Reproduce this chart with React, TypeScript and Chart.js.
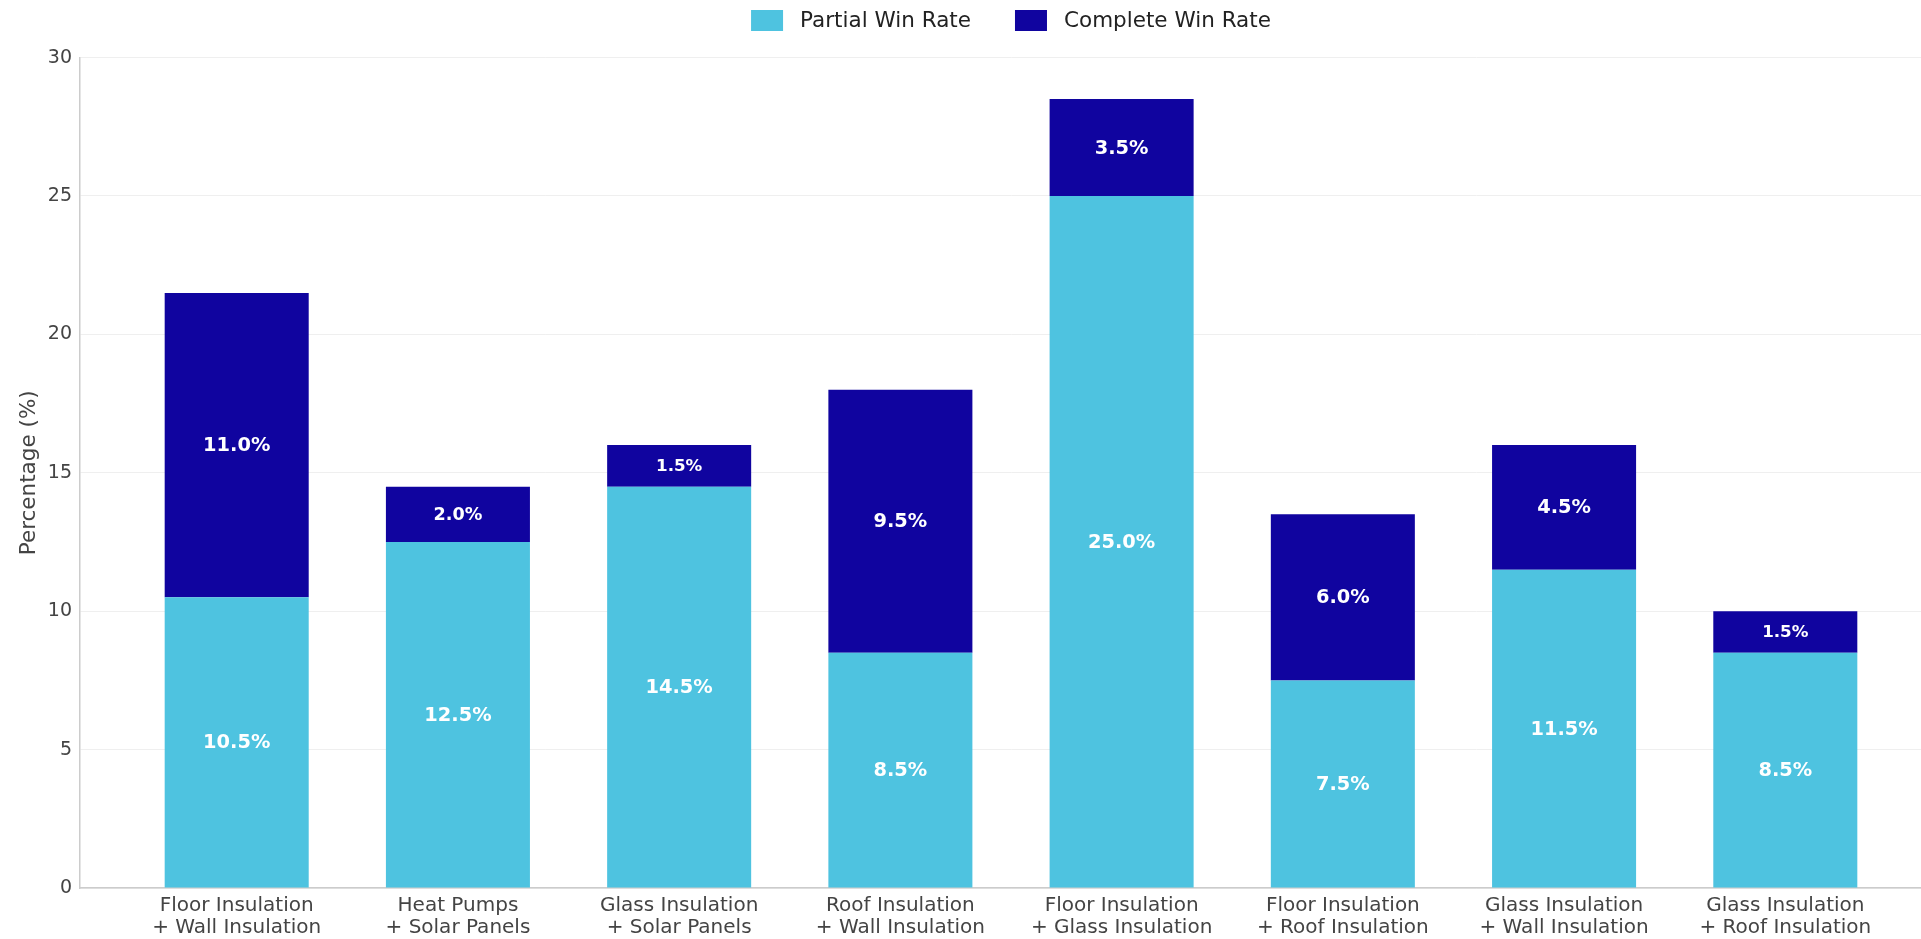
import React, { useEffect, useRef } from 'react';
import { Chart, registerables } from 'chart.js';

Chart.register(...registerables);

const CATEGORIES: string[][] = [
  ['Floor Insulation', '+ Wall Insulation'],
  ['Heat Pumps', '+ Solar Panels'],
  ['Glass Insulation', '+ Solar Panels'],
  ['Roof Insulation', '+ Wall Insulation'],
  ['Floor Insulation', '+ Glass Insulation'],
  ['Floor Insulation', '+ Roof Insulation'],
  ['Glass Insulation', '+ Wall Insulation'],
  ['Glass Insulation', '+ Roof Insulation'],
];
const PARTIAL = [10.5, 12.5, 14.5, 8.5, 25.0, 7.5, 11.5, 8.5];
const COMPLETE = [11.0, 2.0, 1.5, 9.5, 3.5, 6.0, 4.5, 1.5];
const SERIES_NAMES = ['Partial Win Rate', 'Complete Win Rate'];
const SERIES_COLORS = ['#4ec3e0', '#10049f'];
const Y_MIN = 0;
const Y_MAX = 30;
const Y_STEP = 5;
const Y_TITLE = 'Percentage (%)';

const FONT = '"DejaVu Sans", Verdana, sans-serif';

const valueLabels = {
  id: 'valueLabels',
  afterDatasetsDraw(chart: any) {
    const ctx = chart.ctx;
    chart.data.datasets.forEach((ds: any, di: number) => {
      const meta = chart.getDatasetMeta(di);
      if (meta.hidden) return;
      meta.data.forEach((el: any, i: number) => {
        const v = ds.data[i].y as number;
        const { x, y, base } = el.getProps(['x', 'y', 'base'], true);
        const size = Math.min(19.4, 14 + 1.8 * v);
        ctx.save();
        ctx.fillStyle = '#ffffff';
        ctx.font = `bold ${size}px ${FONT}`;
        ctx.textAlign = 'center';
        ctx.textBaseline = 'middle';
        ctx.fillText(`${v.toFixed(1)}%`, x, (y + base) / 2 + 1);
        ctx.restore();
      });
    });
  },
};

const topLegend = {
  id: 'topLegend',
  afterDraw(chart: any) {
    const ctx = chart.ctx;
    const area = chart.chartArea;
    const boxW = 32;
    const boxH = 21;
    const gap = 17;
    const itemGap = 44;
    const fontSize = 21.5;
    ctx.save();
    ctx.font = `${fontSize}px ${FONT}`;
    const items = chart.data.datasets.map((ds: any) => ({
      text: ds.label as string,
      color: ds.backgroundColor as string,
      w: ctx.measureText(ds.label).width,
    }));
    const total = items.reduce((s: number, it: any, i: number) => s + boxW + gap + it.w + (i > 0 ? itemGap : 0), 0);
    let x = (area.left + area.right) / 2 - total / 2;
    const top = 10;
    items.forEach((it: any, i: number) => {
      if (i > 0) x += itemGap;
      ctx.fillStyle = it.color;
      ctx.fillRect(x, top, boxW, boxH);
      x += boxW + gap;
      ctx.fillStyle = '#222222';
      ctx.textAlign = 'left';
      ctx.textBaseline = 'middle';
      ctx.fillText(it.text, x, top + boxH / 2 + 1);
      x += it.w;
    });
    ctx.restore();
  },
};

export default function App() {
  const ref = useRef<HTMLCanvasElement | null>(null);

  useEffect(() => {
    if (!ref.current) return;
    const positions = CATEGORIES.map((_, i) => i);
    const chart = new Chart(ref.current, {
      type: 'bar',
      data: {
        datasets: [
          {
            label: SERIES_NAMES[0],
            data: PARTIAL.map((v, i) => ({ x: positions[i], y: v })),
            backgroundColor: SERIES_COLORS[0],
            borderWidth: 0,
            categoryPercentage: 1,
            barPercentage: 0.651,
          },
          {
            label: SERIES_NAMES[1],
            data: COMPLETE.map((v, i) => ({ x: positions[i], y: v })),
            backgroundColor: SERIES_COLORS[1],
            borderWidth: 0,
            categoryPercentage: 1,
            barPercentage: 0.651,
          },
        ] as any,
      },
      options: {
        animation: false,
        responsive: false,
        maintainAspectRatio: false,
        layout: { padding: { top: 57.6, left: 0, right: 0, bottom: 0 } },
        plugins: {
          legend: { display: false },
          tooltip: { enabled: false },
        },
        scales: {
          x: {
            type: 'linear',
            stacked: true,
            offset: false,
            bounds: 'data',
            min: -0.7083,
            max: CATEGORIES.length - 1 + 0.7083,
            afterBuildTicks: (axis: any) => {
              axis.ticks = positions.map((v) => ({ value: v }));
            },
            afterFit: (scale: any) => {
              scale.height = 51;
            },
            grid: { display: false, drawTicks: false, offset: false },
            border: { display: true, color: '#cccccc', width: 1.5 },
            ticks: {
              autoSkip: false,
              maxRotation: 0,
              minRotation: 0,
              padding: 7,
              color: '#444444',
              font: { family: FONT, size: 20, lineHeight: 22 / 20 },
              callback: (value: any) => CATEGORIES[Math.round(Number(value))] ?? '',
            },
          },
          y: {
            type: 'linear',
            stacked: true,
            min: Y_MIN,
            max: Y_MAX,
            afterFit: (scale: any) => {
              scale.width = 80;
            },
            grid: { color: '#efefef', lineWidth: 1, drawTicks: false },
            border: { display: true, color: '#cccccc', width: 1.5 },
            ticks: {
              stepSize: Y_STEP,
              padding: 8,
              color: '#444444',
              font: { family: FONT, size: 19 },
            },
            title: {
              display: true,
              text: Y_TITLE,
              color: '#444444',
              font: { family: FONT, size: 21.5 },
              padding: { top: 17, bottom: 0 },
            },
          },
        },
      } as any,
      plugins: [valueLabels, topLegend],
    });
    return () => chart.destroy();
  }, []);

  return (
    <div
      style={{
        position: 'fixed',
        left: 0,
        top: 0,
        width: 1921,
        height: 939,
        overflow: 'hidden',
        background: '#ffffff',
      }}
    >
      <canvas ref={ref} width={1942} height={939} style={{ display: 'block' }} />
    </div>
  );
}
